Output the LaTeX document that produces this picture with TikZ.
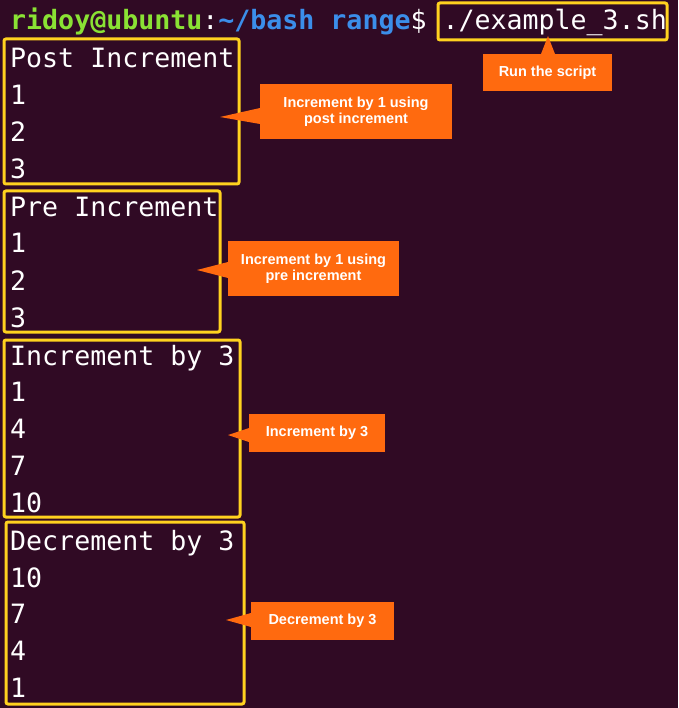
\documentclass[tikz,border=0pt]{standalone}
\usepackage{fontspec}
\setmonofont{DejaVu Sans Mono}
\newfontfamily\calfont{Liberation Sans}
\definecolor{bg}{HTML}{300A24}
\definecolor{ylw}{HTML}{FFD21F}
\definecolor{org}{HTML}{FF6A0F}
\definecolor{grn}{HTML}{8AE234}
\definecolor{blu}{HTML}{3B8EEA}
\begin{document}
\begin{tikzpicture}[x=1pt,y=-1pt,
  term/.style={anchor=base west,inner sep=0pt,text=white,font=\ttfamily\fontsize{26.6}{30}\selectfont},
  ybox/.style={draw=ylw,line width=3pt,rounded corners=2pt},
  call/.style={fill=org,text=white,font=\calfont\bfseries\fontsize{14.5}{16}\selectfont,align=center,inner sep=0pt}]
\fill[bg] (0,0) rectangle (678,708);
\useasboundingbox (0,0) rectangle (678,708);
\node[term] (prompt) at (10,30) {\textcolor{grn}{\bfseries ridoy@ubuntu}:\textcolor{blu}{\bfseries\textasciitilde/bash range}\$ ./example\_3.sh};
\foreach \t/\y [count=\i] in {Post Increment/58,1/95,2/132,3/169,Pre Increment/207,1/243,2/280,3/317,Increment by 3/355,1/391,4/428,7/465,10/502,Decrement by 3/540,10/577,7/613,4/650,1/687}
  \node[term] (l\i) at (10,\y+10) {\t};
\draw[ybox] (438,3) rectangle (667,40);
\draw[ybox] (4,39) rectangle (239,184);
\draw[ybox] (4,191) rectangle (220,332);
\draw[ybox] (4,340) rectangle (240,517);
\draw[ybox] (6,522) rectangle (244,704);
% callouts
\node[call,minimum width=192,minimum height=55] (c1) at (356,111.5) {Increment by 1 using\\post increment};
\coordinate (p1) at (220,117);
\fill[org] (p1) -- (260,108) -- (260,124) -- cycle;
\node[call,minimum width=171,minimum height=55] (c2) at (313.5,268.5) {Increment by 1 using\\pre increment};
\coordinate (p2) at (197,270);
\fill[org] (p2) -- (228,262) -- (228,278) -- cycle;
\node[call,minimum width=136,minimum height=38] (c3) at (317,433) {Increment by 3};
\coordinate (p3) at (228,435);
\fill[org] (p3) -- (249,428) -- (249,442) -- cycle;
\node[call,minimum width=143,minimum height=38] (c4) at (322.5,621) {Decrement by 3};
\coordinate (p4) at (226,620);
\fill[org] (p4) -- (251,613) -- (251,627) -- cycle;
\node[call,minimum width=129,minimum height=37] (c5) at (547.5,72.5) {Run the script};
\coordinate (p5) at (548,36);
\fill[org] (p5) -- (541,54) -- (555,54) -- cycle;
\end{tikzpicture}
\end{document}
